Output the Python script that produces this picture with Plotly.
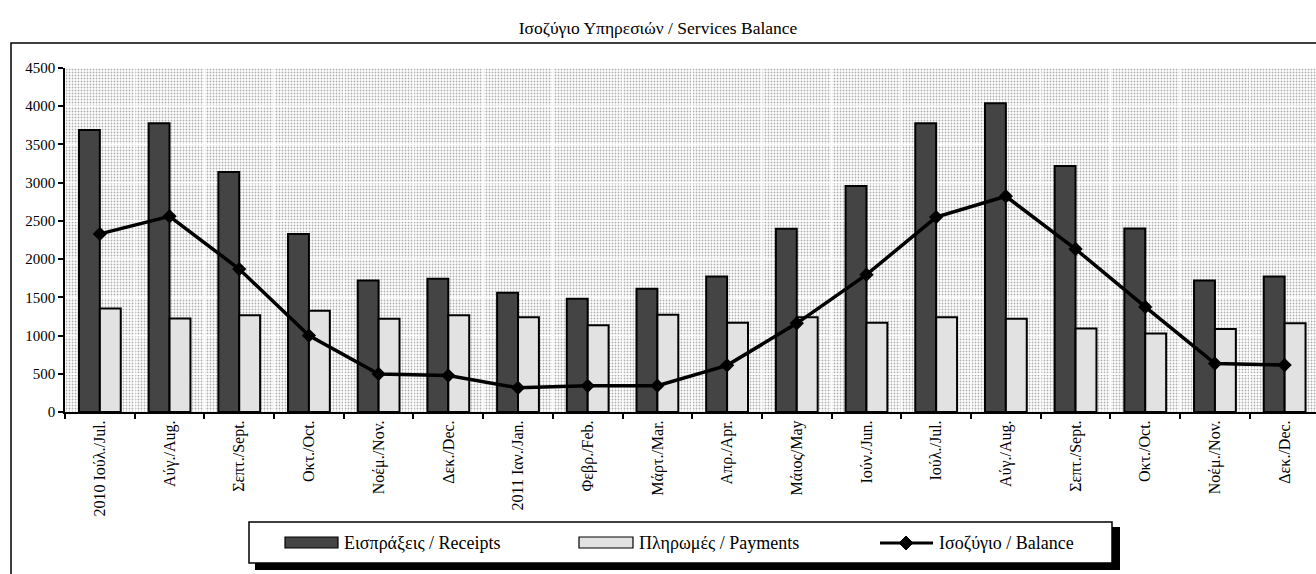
import plotly.graph_objects as go

# Monthly services balance, July 2010 - December 2011 (million euro)
months = [
    "2010 Ιούλ./Jul.", "Αύγ./Aug.", "Σεπτ./Sept.", "Οκτ./Oct.", "Νοέμ./Nov.", "Δεκ./Dec.",
    "2011 Ιαν./Jan.", "Φεβρ./Feb.", "Μάρτ./Mar.", "Απρ./Apr.", "Μάιος/May", "Ιούν./Jun.",
    "Ιούλ./Jul.", "Αύγ./Aug.", "Σεπτ./Sept.", "Οκτ./Oct.", "Νοέμ./Nov.", "Δεκ./Dec.",
]
receipts = [3690, 3778, 3140, 2327, 1721, 1742, 1559, 1480, 1611, 1774, 2397, 2957,
            3778, 4040, 3219, 2402, 1721, 1774]
payments = [1354, 1223, 1267, 1323, 1219, 1267, 1241, 1136, 1271, 1166, 1241, 1166,
            1241, 1219, 1092, 1027, 1087, 1162]
balance = [2330, 2560, 1870, 1000, 498, 476, 316, 342, 345, 610, 1160, 1796,
           2550, 2822, 2132, 1374, 634, 614]

y_ticks = [0, 500, 1000, 1500, 2000, 2500, 3000, 3500, 4000, 4500]
y_step = 500
y_max = 4500

FONT = "Liberation Serif"
W, H = 1316, 574
L, R, T, B = 65, 1316, 68, 412

x_idx = list(range(len(months)))


def pxx(x):
    return (x - L) / (R - L)


def pxy(y):
    return (B - y) / (B - T)


fig = go.Figure()

# stippled background cells, one per category and 500-unit band
cell_x, cell_base, cell_h = [], [], []
for i in x_idx:
    for b in y_ticks[:-1]:
        cell_x.append(i)
        cell_base.append(b)
        cell_h.append(y_step)
fig.add_trace(go.Bar(
    x=cell_x, y=cell_h, base=cell_base, width=1.0,
    marker=dict(color="white",
                line=dict(color="white", width=1.2),
                pattern=dict(shape=".", size=3, solidity=0.3,
                             fgcolor="#606060", bgcolor="white")),
    hoverinfo="skip", showlegend=False,
))

fig.add_trace(go.Bar(
    x=x_idx, y=receipts, width=0.3, offset=-0.3,
    name="Εισπράξεις / Receipts",
    marker=dict(color="#444444", line=dict(color="black", width=2)),
))
fig.add_trace(go.Bar(
    x=x_idx, y=payments, width=0.3, offset=0.0,
    name="Πληρωμές / Payments",
    marker=dict(color="#e2e2e2", line=dict(color="black", width=2)),
))
fig.add_trace(go.Scatter(
    x=x_idx, y=balance, mode="lines+markers",
    name="Ισοζύγιο / Balance",
    line=dict(color="black", width=3.5),
    marker=dict(symbol="diamond", size=11, color="black"),
))

shapes = []
# outer chart frame
shapes.append(dict(type="rect", xref="paper", yref="paper",
                   x0=pxx(11), x1=pxx(1345), y0=pxy(43), y1=pxy(610),
                   line=dict(color="black", width=1.5), fillcolor="rgba(0,0,0,0)",
                   layer="above"))

# legend box with drop shadow
shapes.append(dict(type="rect", xref="paper", yref="paper",
                   x0=pxx(255), x1=pxx(1120), y0=pxy(527), y1=pxy(570),
                   line=dict(width=0), fillcolor="black", layer="above"))
shapes.append(dict(type="rect", xref="paper", yref="paper",
                   x0=pxx(249), x1=pxx(1112), y0=pxy(522), y1=pxy(563),
                   line=dict(color="black", width=1.5), fillcolor="white", layer="above"))
# legend swatches
shapes.append(dict(type="rect", xref="paper", yref="paper",
                   x0=pxx(285), x1=pxx(338), y0=pxy(537), y1=pxy(548),
                   line=dict(color="black", width=1.2), fillcolor="#444444", layer="above"))
shapes.append(dict(type="rect", xref="paper", yref="paper",
                   x0=pxx(579), x1=pxx(633), y0=pxy(537), y1=pxy(548),
                   line=dict(color="black", width=1.2), fillcolor="#e2e2e2", layer="above"))
shapes.append(dict(type="line", xref="paper", yref="paper",
                   x0=pxx(880), x1=pxx(933), y0=pxy(543), y1=pxy(543),
                   line=dict(color="black", width=3), layer="above"))
dx, dy = 7, 7
cx, cy = 906, 543
path = "M {} {} L {} {} L {} {} L {} {} Z".format(
    pxx(cx - dx), pxy(cy), pxx(cx), pxy(cy - dy), pxx(cx + dx), pxy(cy), pxx(cx), pxy(cy + dy))
shapes.append(dict(type="path", xref="paper", yref="paper", path=path,
                   line=dict(color="black", width=1), fillcolor="black", layer="above"))

annotations = []
for label, x0 in [("Εισπράξεις / Receipts", 342), ("Πληρωμές / Payments", 637),
                  ("Ισοζύγιο / Balance", 937)]:
    annotations.append(dict(text=label, xref="paper", yref="paper",
                            x=pxx(x0), y=pxy(543), xanchor="left", yanchor="middle",
                            showarrow=False, font=dict(family=FONT, size=18, color="black")))

fig.update_layout(
    width=W, height=H,
    margin=dict(l=L, r=W - R, t=T, b=H - B, pad=0),
    paper_bgcolor="white", plot_bgcolor="white",
    barmode="overlay",
    showlegend=False,
    font=dict(family=FONT, size=15, color="black"),
    title=dict(text="Ισοζύγιο Υπηρεσιών / Services Balance",
               x=0.5, xanchor="center", y=1 - 28 / H, yanchor="middle",
               font=dict(family=FONT, size=17.5, color="black")),
    shapes=shapes,
    annotations=annotations,
)

fig.update_xaxes(
    range=[-0.5, 17.45],
    tickmode="array", tickvals=x_idx, ticktext=months,
    tickangle=-90, ticks="", showgrid=False, zeroline=False,
    showline=True, linecolor="black", linewidth=2,
    tickfont=dict(family=FONT, size=16, color="black"),
    minor=dict(tick0=-0.5, dtick=1, ticks="outside", ticklen=5,
               tickcolor="black", tickwidth=1.5, showgrid=False),
)
fig.update_yaxes(
    range=[0, y_max],
    tickmode="array", tickvals=y_ticks,
    ticks="outside", ticklen=5, tickcolor="black", tickwidth=1.5,
    showgrid=False, zeroline=False,
    showline=True, linecolor="black", linewidth=1.5,
    tickfont=dict(family=FONT, size=15, color="black"),
)

fig.write_html("out.html")
